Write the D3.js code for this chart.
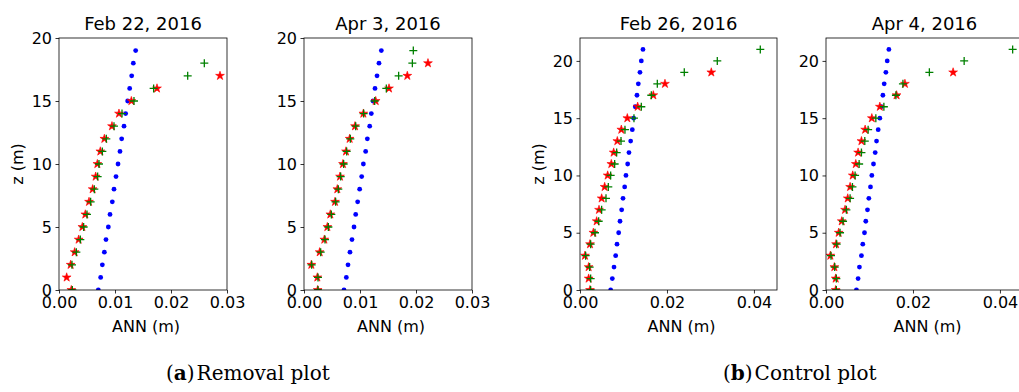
<!DOCTYPE html>
<html>
<head>
<meta charset="utf-8">
<script src="https://cdn.jsdelivr.net/npm/d3@7"></script>
<style>
  html, body { margin: 0; padding: 0; background: #fff; }
  svg { display: block; }
</style>
</head>
<body>
<svg id="chart" width="1019" height="392"></svg>
<script>
// ---------- data (ANN in metres, index = z in metres) ----------
const titles = ["Feb 22, 2016", "Apr 3, 2016", "Feb 26, 2016", "Apr 4, 2016"];
const captions = ["Removal plot", "Control plot"];
const captionLetters = ["a", "b"];
const xTicksRemoval = [0, 0.01, 0.02, 0.03];
const xTicksControl = [0, 0.02, 0.04];
const yTicks = [0, 5, 10, 15, 20];

// Feb 22, 2016 (removal)
const blueFeb22 = [0.00702, 0.00744, 0.00774, 0.00810, 0.00839, 0.00881, 0.00911, 0.00952, 0.00982, 0.01018,
                   0.01054, 0.01089, 0.01119, 0.01161, 0.01190, 0.01226, 0.01262, 0.01298, 0.01327, 0.01369];
const greenFeb22 = [0.00238, null, 0.00232, 0.00310, 0.00381, 0.00440, 0.00500, 0.00565, 0.00631, 0.00690,
                    0.00714, 0.00774, 0.00845, 0.00982, 0.01125, 0.01339, 0.01690, 0.02298, 0.02595];
const redFeb22 = [0.00220, 0.00137, 0.00208, 0.00280, 0.00351, 0.00417, 0.00470, 0.00536, 0.00601, 0.00655,
                  0.00685, 0.00738, 0.00810, 0.00946, 0.01071, 0.01292, 0.01750, 0.02875];

// Apr 3, 2016 (removal)
const blueApr3 = [0.00714, 0.00756, 0.00786, 0.00821, 0.00857, 0.00893, 0.00923, 0.00958, 0.00994, 0.01030,
                  0.01060, 0.01101, 0.01131, 0.01173, 0.01202, 0.01232, 0.01268, 0.01304, 0.01339, 0.01381];
const greenApr3 = [0.00250, 0.00250, 0.00137, 0.00298, 0.00375, 0.00435, 0.00488, 0.00565, 0.00613, 0.00655,
                   0.00708, 0.00762, 0.00827, 0.00923, 0.01065, 0.01262, 0.01470, 0.01690, 0.01935, 0.01952];
const redApr3 = [0.00244, 0.00238, 0.00131, 0.00280, 0.00363, 0.00417, 0.00470, 0.00554, 0.00595, 0.00643,
                 0.00696, 0.00750, 0.00815, 0.00911, 0.01060, 0.01280, 0.01518, 0.01845, 0.02214];

// Feb 26, 2016 (control)
const blueFeb26 = [0.00705, 0.00743, 0.00782, 0.00820, 0.00851, 0.00889, 0.00920, 0.00958, 0.00989, 0.01027,
                   0.01057, 0.01096, 0.01126, 0.01165, 0.01203, 0.01234, 0.01272, 0.01310, 0.01341, 0.01379,
                   0.01410, 0.01448];
const greenFeb26 = [0.00245, 0.00245, 0.00222, 0.00130, 0.00245, 0.00345, 0.00429, 0.00498, 0.00598, 0.00651,
                    0.00705, 0.00797, 0.00843, 0.00943, 0.01034, 0.01241, 0.01410, 0.01640, 0.01778, 0.02398,
                    0.03157, 0.04146];
const redFeb26 = [0.00230, 0.00199, 0.00199, 0.00115, 0.00230, 0.00307, 0.00383, 0.00437, 0.00498, 0.00567,
                  0.00636, 0.00720, 0.00774, 0.00858, 0.00950, 0.01088, 0.01326, 0.01686, 0.01954, 0.03019];

// Apr 4, 2016 (control)
const blueApr4 = [0.00700, 0.00738, 0.00769, 0.00815, 0.00846, 0.00885, 0.00915, 0.00954, 0.00985, 0.01023,
                  0.01054, 0.01092, 0.01131, 0.01162, 0.01200, 0.01238, 0.01269, 0.01308, 0.01338, 0.01377,
                  0.01408, 0.01446];
const greenApr4 = [0.00238, 0.00238, 0.00200, 0.00115, 0.00246, 0.00323, 0.00392, 0.00469, 0.00554, 0.00608,
                   0.00669, 0.00762, 0.00815, 0.00892, 0.00969, 0.01146, 0.01331, 0.01608, 0.01769, 0.02377,
                   0.03177, 0.04292];
const redApr4 = [0.00223, 0.00223, 0.00192, 0.00100, 0.00231, 0.00292, 0.00362, 0.00438, 0.00500, 0.00554,
                 0.00615, 0.00685, 0.00738, 0.00815, 0.00900, 0.01054, 0.01238, 0.01623, 0.01815, 0.02923];

// ---------- layout ----------
const panels = [
  { title: titles[0], blue: blueFeb22, green: greenFeb22, red: redFeb22, xMax: 0.03,   yMax: 20, xTicks: xTicksRemoval, fmt: ".2f", left: 59,  width: 168, ylabel: true },
  { title: titles[1], blue: blueApr3,  green: greenApr3,  red: redApr3,  xMax: 0.03,   yMax: 20, xTicks: xTicksRemoval, fmt: ".2f", left: 304, width: 168, ylabel: false },
  { title: titles[2], blue: blueFeb26, green: greenFeb26, red: redFeb26, xMax: 0.0453, yMax: 22, xTicks: xTicksControl, fmt: ".2f", left: 580, width: 197, ylabel: true },
  { title: titles[3], blue: blueApr4,  green: greenApr4,  red: redApr4,  xMax: 0.0453, yMax: 22, xTicks: xTicksControl, fmt: ".2f", left: 826, width: 197, ylabel: false }
];
const plotTop = 38, plotHeight = 252;
const sansFont = "'DejaVu Sans', sans-serif";
const serifFont = "'DejaVu Serif', serif";

const svg = d3.select("#chart");

const toPts = arr => arr.map((v, i) => ({ x: v, z: i })).filter(d => d.x !== null);

panels.forEach((p, k) => {
  const x = d3.scaleLinear().domain([0, p.xMax]).range([0, p.width]);
  const y = d3.scaleLinear().domain([0, p.yMax]).range([plotHeight, 0]);
  const g = svg.append("g").attr("transform", `translate(${p.left},${plotTop})`);

  const clipId = "clip" + k;
  g.append("clipPath").attr("id", clipId)
    .append("rect").attr("x", 0).attr("y", 0).attr("width", p.width).attr("height", plotHeight);

  const plot = g.append("g").attr("clip-path", `url(#${clipId})`);

  // blue dots
  plot.selectAll(".blue").data(toPts(p.blue)).join("circle")
    .attr("cx", d => x(d.x)).attr("cy", d => y(d.z)).attr("r", 2.4)
    .attr("fill", "#0000ff");

  // red stars
  const star = d3.symbol().type(d3.symbolStar).size(24);
  plot.selectAll(".red").data(toPts(p.red)).join("path")
    .attr("d", star)
    .attr("transform", d => `translate(${x(d.x)},${y(d.z)})`)
    .attr("fill", "#ff0000").attr("stroke", "#ff0000").attr("stroke-width", 0.6);

  // green plus
  plot.selectAll(".green").data(toPts(p.green)).join("path")
    .attr("d", "M-4,0H4M0,-4V4")
    .attr("transform", d => `translate(${x(d.x)},${y(d.z)})`)
    .attr("fill", "none").attr("stroke", "#008000").attr("stroke-width", 1.3);

  // axes
  const xAxis = d3.axisBottom(x).tickValues(p.xTicks).tickFormat(d3.format(p.fmt))
    .tickSize(3.5).tickPadding(3.5);
  const yAxis = d3.axisLeft(y).tickValues(yTicks).tickFormat(d3.format("d"))
    .tickSize(3.5).tickPadding(3.5);

  const gx = g.append("g").attr("transform", `translate(0,${plotHeight})`).call(xAxis);
  const gy = g.append("g").call(yAxis);
  [gx, gy].forEach(a => {
    a.select(".domain").remove();
    a.selectAll("line").attr("stroke", "#000").attr("stroke-width", 0.8);
    a.selectAll("text").style("font-family", sansFont).style("font-size", "16px").attr("fill", "#000");
  });

  // frame
  g.append("rect").attr("x", 0).attr("y", 0).attr("width", p.width).attr("height", plotHeight)
    .attr("fill", "none").attr("stroke", "#000").attr("stroke-width", 0.8);

  // title
  g.append("text").attr("x", p.width / 2).attr("y", -8)
    .attr("text-anchor", "middle").style("font-family", sansFont).style("font-size", "18px").text(p.title);

  // x label
  g.append("text").attr("x", p.width / 2 + 3).attr("y", plotHeight + 42)
    .attr("text-anchor", "middle").style("font-family", sansFont).style("font-size", "16px").text("ANN (m)");

  // y label
  if (p.ylabel) {
    g.append("text")
      .attr("transform", `translate(-36,${plotHeight / 2}) rotate(-90)`)
      .attr("text-anchor", "middle").style("font-family", sansFont).style("font-size", "16px").text("z (m)");
  }
});

// captions
const capPos = [166, 723];
captions.forEach((c, i) => {
  const t = svg.append("text").attr("x", capPos[i]).attr("y", 380)
    .style("font-family", serifFont).style("font-size", "20px").attr("fill", "#000");
  t.append("tspan").text("(");
  t.append("tspan").style("font-weight", "bold").text(captionLetters[i]);
  t.append("tspan").text(")");
  t.append("tspan").attr("dx", 2).text(c);
});
</script>
</body>
</html>
